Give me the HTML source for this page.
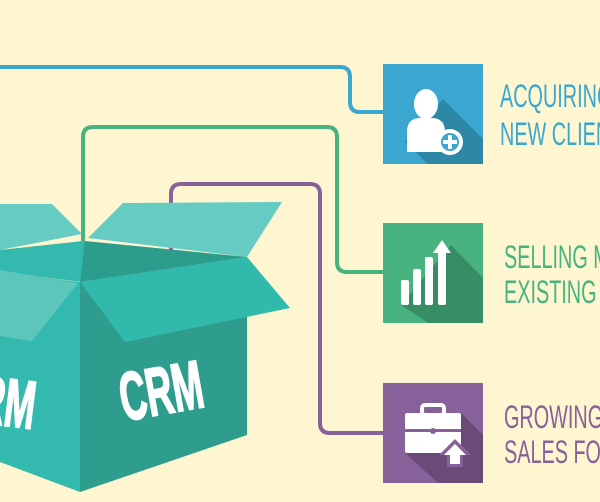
<!DOCTYPE html>
<html><head><meta charset="utf-8"><style>
html,body{margin:0;padding:0;background:#fdf6d1;}
svg{display:block}
text{font-family:"Liberation Sans",sans-serif;}
</style></head><body>
<svg width="600" height="502" viewBox="0 0 600 502" xmlns="http://www.w3.org/2000/svg">
<rect width="600" height="502" fill="#fdf6d1"/>
<g fill="none" stroke-width="4" stroke-linejoin="round">
<path d="M0 67 H340 Q350 67 350 77 V102 Q350 112 360 112 H384" stroke="#3ba7d0"/>
<path d="M83 282 V137 Q83 127 93 127 H327 Q337 127 337 137 V262 Q337 272 347 272 H384" stroke="#48b37f"/>
<path d="M171 268 V194 Q171 184 181 184 H310 Q320 184 320 194 V423 Q320 433 330 433 H384" stroke="#87629a"/>
</g>
<polygon points="0,204 52,204 82,234 0,250" fill="#66cbc2"/>
<polygon points="88,238 123,203 282,202 247,257" fill="#66cbc2"/>
<polygon points="0,250 83,241 83,282 0,272" fill="#33b9ad"/>
<polygon points="85,241 247,257 80,282" fill="#2c9c8c"/>
<polygon points="0,272 80,282 80,492 0,462" fill="#33b9ad"/>
<polygon points="80,282 247,257 247,435 80,492" fill="#2e9d8e"/>
<polygon points="0,270 78,283 32,341 0,336" fill="#5dc6bc"/>
<polygon points="80,282 247,257 290,308 125,342" fill="#31b9ac"/>
<text x="0" y="0" font-size="68" font-weight="bold" fill="#fff" stroke="#fff" stroke-width="2" transform="translate(124,421) rotate(-10) scale(0.54,1)">CRM</text>
<text x="0" y="0" font-size="68" font-weight="bold" fill="#fff" stroke="#fff" stroke-width="2" transform="translate(-24,422) rotate(7) scale(0.54,1)">RM</text>
<g transform="translate(383,64)">
<rect width="100" height="100" fill="#3ba7d0"/>
<polygon points="60,35 100,75 100,100 45,100 22,78" fill="#2d87a7"/>
<ellipse cx="43" cy="40" rx="12" ry="15" fill="#fff"/>
<path d="M24 88 V68 Q24 55 36 54 L50 54 Q62 55 62 68 V88 Z" fill="#fff"/>
<circle cx="67" cy="78" r="13" fill="#fff"/>
<circle cx="67" cy="78" r="9" fill="#3ba7d0"/>
<rect x="65" y="71" width="4" height="14" fill="#fff"/><rect x="60" y="76" width="14" height="4" fill="#fff"/>
</g>
<g transform="translate(383,223)">
<rect width="100" height="100" fill="#48b37f"/>
<polygon points="68,22 100,55 100,100 45,100 18,82" fill="#388e64"/>
<rect x="18" y="57" width="8" height="25" rx="2" fill="#fff"/>
<rect x="30" y="46" width="8" height="36" rx="2" fill="#fff"/>
<rect x="42" y="34" width="8" height="48" rx="2" fill="#fff"/>
<rect x="55" y="27" width="8" height="55" rx="2" fill="#fff"/>
<polygon points="59,17 68,30 50,30" fill="#fff"/>
</g>
<g transform="translate(383,383)">
<rect width="100" height="100" fill="#87629a"/>
<polygon points="78,30 100,52 100,100 55,100 22,70" fill="#6a4b78"/>
<rect x="39" y="22" width="22" height="10" rx="3" fill="none" stroke="#fff" stroke-width="4"/>
<rect x="22" y="30" width="56" height="40" rx="2" fill="#fff"/>
<rect x="22" y="46" width="56" height="3" fill="#87629a"/>
<circle cx="50" cy="48" r="3" fill="#87629a"/>
<polygon points="72,56 88,72 80,72 80,84 64,84 64,72 56,72" fill="#87629a"/>
<polygon points="72,61 83,72 77,72 77,81 67,81 67,72 61,72" fill="#fff"/>
</g>
<g font-size="32">
<text transform="translate(500,107) scale(0.62,1)" fill="#3ba7d0">ACQUIRING</text>
<text transform="translate(500,145) scale(0.62,1)" fill="#3ba7d0">NEW CLIENTS</text>
<text transform="translate(504,268) scale(0.62,1)" fill="#48b37f">SELLING MORE</text>
<text transform="translate(504,303) scale(0.62,1)" fill="#48b37f">EXISTING</text>
<text transform="translate(504,428) scale(0.62,1)" fill="#87629a">GROWING</text>
<text transform="translate(504,463) scale(0.62,1)" fill="#87629a">SALES FORCE</text>
</g>
</svg>
</body></html>
